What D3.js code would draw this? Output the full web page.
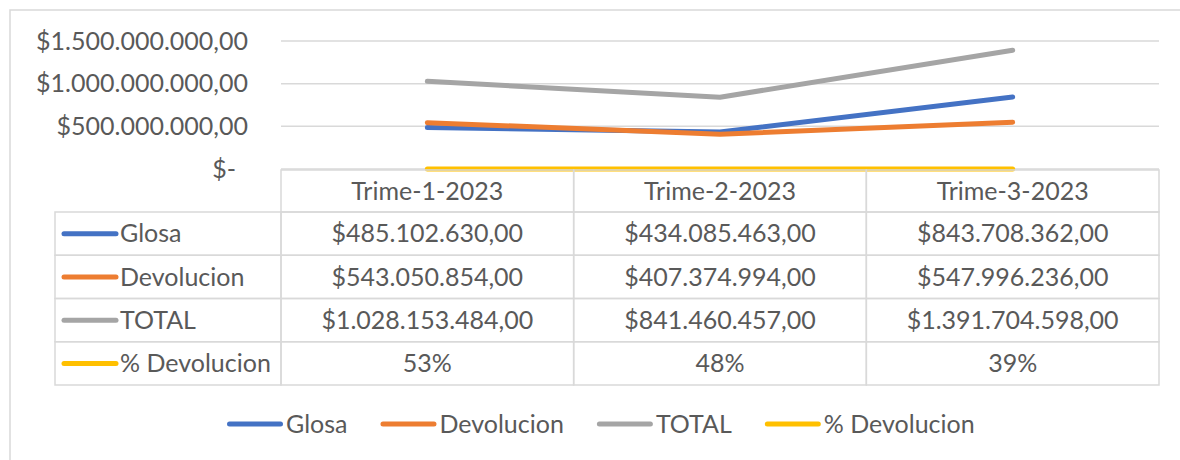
<!DOCTYPE html>
<html>
<head>
<meta charset="utf-8">
<script src="https://cdn.jsdelivr.net/npm/d3@7"></script>
<style>
  body { margin: 0; background: #fff; }
  text { font-family: Lato, "Open Sans", sans-serif; fill: #595959; }
</style>
</head>
<body>
<script>
// data
var categories = ["Trime-1-2023", "Trime-2-2023", "Trime-3-2023"];
var seriesNames = ["Glosa", "Devolucion", "TOTAL", "% Devolucion"];
var glosa = [485102630, 434085463, 843708362];
var devolucion = [543050854, 407374994, 547996236];
var total = [1028153484, 841460457, 1391704598];
var pctDevolucion = [0.53, 0.48, 0.39];
var yTicks = [0, 500000000, 1000000000, 1500000000];
var colors = ["#4472C4", "#ED7D31", "#A5A5A5", "#FFC000"];

var series = [glosa, devolucion, total, pctDevolucion];

var W = 1180, H = 460;
var fontSize = 25;
var grid = "#d9d9d9";

// spanish style money format
var locale = d3.formatLocale({decimal: ",", thousands: ".", grouping: [3], currency: ["$", ""]});
var money = locale.format("$,.2f");
var pct = locale.format(".0%");
function tickFmt(v) { return v === 0 ? "$-" : money(v); }

var svg = d3.select("body").append("svg")
    .attr("width", W)
    .attr("height", H);

// chart border (runs off the picture at right and bottom)
svg.append("rect")
    .attr("x", 10).attr("y", 10)
    .attr("width", W + 20).attr("height", H + 20)
    .attr("fill", "none")
    .attr("stroke", grid)
    .attr("stroke-width", 1.5);

var x = d3.scaleBand().domain(categories).range([281, 1159]).padding(0);
var y = d3.scaleLinear().domain([0, 1500000000]).range([169, 41]);

// gridlines + y labels
var yAxis = svg.append("g");
yAxis.selectAll("line").data(yTicks).enter().append("line")
    .attr("x1", 281).attr("x2", 1159)
    .attr("y1", function(d) { return y(d); })
    .attr("y2", function(d) { return y(d); })
    .attr("stroke", grid)
    .attr("stroke-width", 1.5);

yAxis.selectAll("text").data(yTicks).enter().append("text")
    .attr("x", function(d) { return d === 0 ? 236 : 248; })
    .attr("y", function(d) { return y(d); })
    .attr("dy", "0.35em")
    .attr("text-anchor", "end")
    .style("font-size", fontSize + "px")
    .text(tickFmt);

// lines
var line = d3.line()
    .x(function(d, i) { return x(categories[i]) + x.bandwidth() / 2; })
    .y(function(d) { return y(d); });

svg.selectAll(".series").data(series).enter().append("path")
    .attr("class", "series")
    .attr("d", line)
    .attr("fill", "none")
    .attr("stroke", function(d, i) { return colors[i]; })
    .attr("stroke-width", 5)
    .attr("stroke-linecap", "round")
    .attr("stroke-linejoin", "round");

// data table
var headTop = 170, rowTop = 212, rowH = 43.25, labelLeft = 55;
var tbl = svg.append("g");

// header cells
tbl.selectAll(".head").data(categories).enter().append("rect")
    .attr("x", function(d) { return x(d); })
    .attr("y", headTop)
    .attr("width", x.bandwidth())
    .attr("height", rowTop - headTop)
    .attr("fill", "none")
    .attr("stroke", grid).attr("stroke-width", 1.5);

tbl.selectAll(".headText").data(categories).enter().append("text")
    .attr("x", function(d) { return x(d) + x.bandwidth() / 2; })
    .attr("y", (headTop + rowTop) / 2)
    .attr("dy", "0.35em")
    .attr("text-anchor", "middle")
    .style("font-size", fontSize + "px")
    .text(function(d) { return d; });

var rows = tbl.selectAll(".row").data(series).enter().append("g")
    .attr("transform", function(d, i) { return "translate(0," + (rowTop + i * rowH) + ")"; });

rows.append("rect")
    .attr("x", labelLeft).attr("y", 0)
    .attr("width", 281 - labelLeft).attr("height", rowH)
    .attr("fill", "none")
    .attr("stroke", grid).attr("stroke-width", 1.5);

rows.append("line")
    .attr("x1", 64).attr("x2", 116)
    .attr("y1", rowH / 2).attr("y2", rowH / 2)
    .attr("stroke", function(d, i) { return colors[i]; })
    .attr("stroke-width", 5)
    .attr("stroke-linecap", "round");

rows.append("text")
    .attr("x", 120).attr("y", rowH / 2)
    .attr("dy", "0.35em")
    .style("font-size", fontSize + "px")
    .text(function(d, i) { return seriesNames[i]; });

rows.each(function(vals, si) {
  var g = d3.select(this);
  g.selectAll("rect.cell").data(vals).enter().append("rect")
      .attr("class", "cell")
      .attr("x", function(d, i) { return x(categories[i]); })
      .attr("y", 0)
      .attr("width", x.bandwidth()).attr("height", rowH)
      .attr("fill", "none")
      .attr("stroke", grid).attr("stroke-width", 1.5);
  g.selectAll("text.val").data(vals).enter().append("text")
      .attr("class", "val")
      .attr("x", function(d, i) { return x(categories[i]) + x.bandwidth() / 2; })
      .attr("y", rowH / 2)
      .attr("dy", "0.35em")
      .attr("text-anchor", "middle")
      .style("font-size", fontSize + "px")
      .text(function(d) { return si === 3 ? pct(d) : money(d); });
});

// legend
var legend = svg.append("g").attr("transform", "translate(227,424)");
var lx = 0;
seriesNames.forEach(function(name, i) {
  var item = legend.append("g").attr("transform", "translate(" + lx + ",0)");
  item.append("line")
      .attr("x1", 2.5).attr("x2", 53.5)
      .attr("stroke", colors[i])
      .attr("stroke-width", 5)
      .attr("stroke-linecap", "round");
  var t = item.append("text")
      .attr("x", 59)
      .attr("dy", "0.35em")
      .style("font-size", fontSize + "px")
      .text(name);
  lx += 59 + t.node().getComputedTextLength() + 33;
});
</script>
</body>
</html>
